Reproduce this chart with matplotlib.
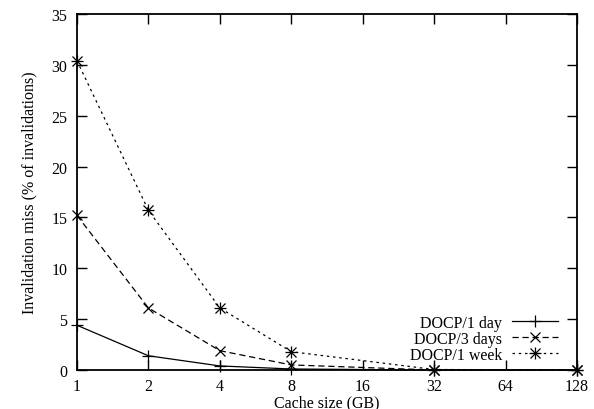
import matplotlib.pyplot as plt
from matplotlib.lines import Line2D

plt.rcParams['font.family'] = ['Liberation Serif', 'DejaVu Serif']
plt.rcParams['font.size'] = 11.5

cache_gb = [1, 2, 4, 8, 32, 128]
miss_1day = [4.4, 1.4, 0.4, 0.1, 0.0, 0.0]
miss_3days = [15.2, 6.1, 1.9, 0.5, 0.0, 0.0]
miss_1week = [30.4, 15.7, 6.1, 1.8, 0.05, 0.0]
xticks = [1, 2, 4, 8, 16, 32, 64, 128]

fig = plt.figure(figsize=(5.94, 4.10), dpi=100)
ax = fig.add_axes([0.1296, 0.0951, 0.8418, 0.8683])

lw = 0.9
ms_plus, ms_x = 8, 6.5
ax.plot(cache_gb, miss_1day, color='black', lw=lw, ls='-',
        marker='+', ms=ms_plus, mew=lw, clip_on=False)
ax.plot(cache_gb, miss_3days, color='black', lw=lw, ls=(0, (5, 3)),
        marker='x', ms=ms_x, mew=lw, clip_on=False)
ax.plot(cache_gb, miss_1week, color='black', lw=lw, ls=(0, (2, 3)),
        clip_on=False)
# gnuplot-style asterisk: a plus on top of a cross
ax.plot(cache_gb, miss_1week, ls='none', color='black', marker='+',
        ms=ms_plus, mew=lw, clip_on=False)
ax.plot(cache_gb, miss_1week, ls='none', color='black', marker='x',
        ms=ms_x, mew=lw, clip_on=False)

ax.set_xscale('log', base=2)
ax.set_xlim(1, 128)
ax.set_ylim(0, 35)
ax.set_xticks(xticks)
ax.set_xticklabels([str(v) for v in xticks])
ax.minorticks_off()
ax.set_yticks(range(0, 36, 5))
ax.tick_params(direction='in', top=True, right=True, length=7, width=1,
               labelsize=11.5)
ax.tick_params(axis='x', pad=6)
ax.tick_params(axis='y', pad=7)
for s in ax.spines.values():
    s.set_linewidth(1.3)

ax.set_xlabel('Cache size (GB)', labelpad=0)
ax.set_ylabel('Invalidation miss (% of invalidations)', labelpad=10)

h1 = Line2D([], [], color='black', lw=lw, marker='+', ms=ms_plus, mew=lw)
h2 = Line2D([], [], color='black', lw=lw, ls=(0, (5, 3)), marker='x', ms=ms_x, mew=lw)
h3a = Line2D([], [], color='black', lw=lw, ls=(0, (2, 3)), marker='+', ms=ms_plus, mew=lw)
h3b = Line2D([], [], color='none', marker='x', ms=ms_x, mew=lw, markeredgecolor='black')
ax.legend([h1, h2, (h3a, h3b)], ['DOCP/1 day', 'DOCP/3 days', 'DOCP/1 week'],
          loc='lower right', bbox_to_anchor=(0.962, 0.02), frameon=False,
          markerfirst=False, handlelength=2.9, handletextpad=0.6,
          labelspacing=0.0, borderpad=0.0, borderaxespad=0.0, fontsize=11.5)

fig.savefig('out.png', dpi=100)
